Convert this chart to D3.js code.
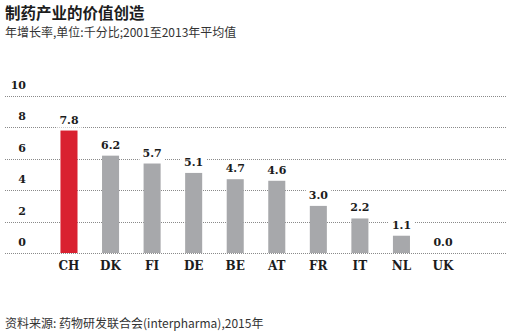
<!DOCTYPE html>
<html>
<head>
<meta charset="utf-8">
<script src="https://cdn.jsdelivr.net/npm/d3@7/dist/d3.min.js"></script>
<style>
  html, body { margin: 0; padding: 0; background: #fff; }
  svg { display: block; }
</style>
</head>
<body>
<svg id="chart" width="511" height="336"></svg>
<script>
// Annual growth of pharma value creation, per mille, 2001–2013 average
const countries = ["CH", "DK", "FI", "DE", "BE", "AT", "FR", "IT", "NL", "UK"];
const growth = [7.8, 6.2, 5.7, 5.1, 4.7, 4.6, 3.0, 2.2, 1.1, 0.0];
const highlight = ["CH"];
const yTicks = [0, 2, 4, 6, 8, 10];

const titleText = "制药产业的价值创造";
const subtitleText = "年增长率,单位:千分比;2001至2013年平均值";
const sourceText = "资料来源: 药物研发联合会(interpharma),2015年";

const data = countries.map((c, i) => ({ country: c, value: growth[i] }));

const svg = d3.select("#chart");
const cjk = "'Noto Sans CJK SC', 'Noto Sans', sans-serif";
const serif = "'DejaVu Serif', serif";
const ink = "#1c1c1c";

const x = d3.scaleBand()
  .domain(countries)
  .range([48, 464])
  .paddingInner(0.59)
  .paddingOuter(0.3);

const y = d3.scaleLinear().domain([0, 10]).range([253, 96]);

// Titles
svg.append("text")
  .attr("x", 5).attr("y", 19)
  .attr("font-family", cjk).attr("font-size", 15.5).attr("font-weight", 700)
  .attr("fill", ink)
  .text(titleText);

svg.append("text")
  .attr("x", 5).attr("y", 37)
  .attr("font-family", cjk).attr("font-size", 12)
  .attr("fill", "#333")
  .text(subtitleText);

// Gridlines with tick labels sitting above them
const grid = svg.append("g");
grid.selectAll("line")
  .data(yTicks)
  .join("line")
  .attr("x1", 5).attr("x2", 506)
  .attr("y1", d => Math.round(y(d)) + 0.5)
  .attr("y2", d => Math.round(y(d)) + 0.5)
  .attr("stroke", "#8a8a8a")
  .attr("stroke-width", 1)
  .attr("stroke-dasharray", "1,1");

grid.selectAll("text")
  .data(yTicks)
  .join("text")
  .attr("x", 26)
  .attr("y", d => y(d) - 7)
  .attr("text-anchor", "end")
  .attr("font-family", serif).attr("font-size", 11).attr("font-weight", 700)
  .attr("fill", ink)
  .text(d => d);

// Bars
svg.append("g").selectAll("rect")
  .data(data)
  .join("rect")
  .attr("x", d => x(d.country))
  .attr("width", x.bandwidth())
  .attr("y", d => y(d.value))
  .attr("height", d => y(0) - y(d.value))
  .attr("fill", d => highlight.includes(d.country) ? "#d92130" : "#a7a8ab");

// Value labels on white plates
const vl = svg.append("g").selectAll("g")
  .data(data)
  .join("g")
  .attr("transform", d => `translate(${x(d.country) + x.bandwidth() / 2},${y(d.value) - 7})`);

vl.append("text")
  .attr("text-anchor", "middle")
  .attr("font-family", serif).attr("font-size", 11).attr("font-weight", 700)
  .attr("fill", ink)
  .text(d => d.value.toFixed(1));

vl.each(function () {
  const g = d3.select(this);
  const b = g.select("text").node().getBBox();
  g.insert("rect", "text")
    .attr("x", b.x - 3).attr("y", b.y - 1)
    .attr("width", b.width + 6).attr("height", b.height + 2)
    .attr("fill", "#fff");
});

// Category labels
svg.append("g").selectAll("text")
  .data(countries)
  .join("text")
  .attr("x", d => x(d) + x.bandwidth() / 2)
  .attr("y", 270)
  .attr("text-anchor", "middle")
  .attr("font-family", serif).attr("font-size", 12).attr("font-weight", 700)
  .attr("fill", ink)
  .text(d => d);

// Source
svg.append("text")
  .attr("x", 5).attr("y", 328)
  .attr("font-family", cjk).attr("font-size", 12)
  .attr("fill", "#333")
  .text(sourceText);
</script>
</body>
</html>
